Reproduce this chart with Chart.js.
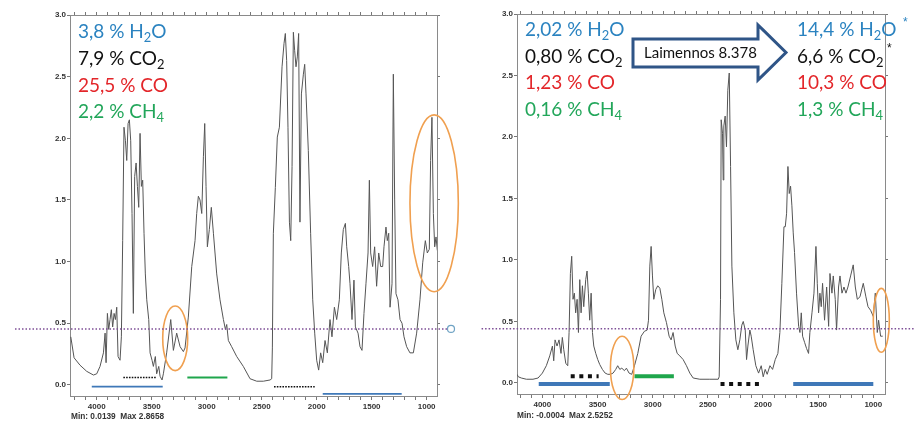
<!DOCTYPE html>
<html>
<head>
<meta charset="utf-8">
<script src="https://cdn.jsdelivr.net/npm/chart.js@4.4.1/dist/chart.umd.min.js"></script>
<style>
  html, body { margin: 0; padding: 0; background: #fff; }
  #wrap { position: relative; width: 915px; height: 423px; overflow: hidden; }
  #wrap canvas { position: absolute; top: 0; }
  #c1 { left: 0; }
  #c2 { left: 460px; }
  .lbl { position: absolute; font-family: Lato, "Open Sans", sans-serif; font-size: 19px; line-height: 19px; white-space: nowrap; }
  .lbl sub { font-size: 0.68em; vertical-align: -0.28em; line-height: 0; }
  .h2o { color: #2b83c0; }
  .co2 { color: #111; }
  .co { color: #e3262a; }
  .ch4 { color: #22a65a; }
  .star { position: absolute; font: 12px "Liberation Sans", Arial, sans-serif; line-height: 12px; }
  .minmax { position: absolute; font: bold 8.3px "Liberation Sans", Arial, sans-serif; line-height: 9px; color: #333; white-space: pre; }
  .arrowtxt { position: absolute; font: 15px Lato, "Open Sans", sans-serif; line-height: 15px; color: #111; white-space: nowrap; }
  svg { position: absolute; left: 0; top: 0; }
</style>
</head>
<body>
<div id="wrap">
  <canvas id="c1" width="460" height="423"></canvas>
  <canvas id="c2" width="455" height="423"></canvas>

  <svg width="915" height="423">
    <polygon points="633,39 758,39 758,25 786,52.5 758,80 758,67 633,67" fill="#fff" stroke="#2f5587" stroke-width="3"/>
  </svg>
  <div class="arrowtxt" style="left:644px; top:45px;">Laimennos 8.378</div>

  <!-- vasen paneeli -->
  <div class="lbl h2o" style="left:78px; top:21px;">3,8 % H<sub>2</sub>O</div>
  <div class="lbl co2" style="left:78px; top:48px;">7,9 % CO<sub>2</sub></div>
  <div class="lbl co" style="left:78px; top:75px;">25,5 % CO</div>
  <div class="lbl ch4" style="left:78px; top:101px;">2,2 % CH<sub>4</sub></div>
  <div class="minmax" style="left:71px; top:412px;">Min: 0.0139  Max 2.8658</div>

  <!-- oikea paneeli -->
  <div class="lbl h2o" style="left:525px; top:19px;">2,02 % H<sub>2</sub>O</div>
  <div class="lbl co2" style="left:525px; top:46px;">0,80 % CO<sub>2</sub></div>
  <div class="lbl co" style="left:525px; top:72px;">1,23 % CO</div>
  <div class="lbl ch4" style="left:525px; top:99px;">0,16 % CH<sub>4</sub></div>

  <div class="lbl h2o" style="left:797px; top:19px;">14,4 % H<sub>2</sub>O</div>
  <div class="lbl co2" style="left:797px; top:46px;">6,6 % CO<sub>2</sub></div>
  <div class="lbl co" style="left:797px; top:72px;">10,3 % CO</div>
  <div class="lbl ch4" style="left:797px; top:99px;">1,3 % CH<sub>4</sub></div>
  <div class="star h2o" style="left:903px; top:16px;">*</div>
  <div class="star co2" style="left:887px; top:42px;">*</div>
  <div class="minmax" style="left:517px; top:411px;">Min: -0.0004  Max 2.5252</div>
</div>

<script>
// aaltoluvut (cm-1) ja absorbanssit, ennen laimennusta
const wavenumbersA = [4236, 4206, 4152, 4091, 4030, 4000, 3970, 3939, 3924, 3915, 3903, 3891, 3879, 3867, 3855, 3842, 3830, 3818, 3806, 3788,
  3776, 3764, 3752, 3739, 3727, 3715, 3703, 3691, 3679, 3667, 3655, 3642, 3630, 3618, 3606, 3594, 3582, 3570, 3558, 3545,
  3527, 3515, 3497, 3485, 3467, 3455, 3436, 3424, 3406, 3394, 3364, 3327, 3303, 3273, 3242, 3212, 3197, 3167, 3136, 3106,
  3091, 3076, 3061, 3045, 3030, 3018, 3006, 2994, 2976, 2958, 2939, 2909, 2879, 2848, 2830, 2818, 2803, 2773, 2727, 2667,
  2606, 2545, 2485, 2424, 2409, 2403, 2394, 2376, 2358, 2339, 2315, 2297, 2285, 2273, 2261, 2248, 2236, 2224, 2212, 2200,
  2188, 2176, 2164, 2152, 2139, 2121, 2109, 2097, 2076, 2055, 2036, 2018, 2000, 1982, 1964, 1945, 1924, 1903, 1879, 1861,
  1839, 1818, 1794, 1776, 1758, 1739, 1727, 1709, 1697, 1679, 1661, 1648, 1624, 1606, 1588, 1570, 1552, 1533, 1521, 1509,
  1491, 1473, 1455, 1436, 1418, 1400, 1388, 1370, 1358, 1345, 1333, 1315, 1303, 1291, 1279, 1261, 1242, 1224, 1206, 1182,
  1152, 1121, 1091, 1061, 1036, 1012, 994, 976, 964, 952, 939, 927, 915, 903];
const absorbanceA = [0.39, 0.22, 0.16, 0.11, 0.08, 0.09, 0.15, 0.26, 0.42, 0.18, 0.58, 0.45, 0.53, 0.61, 0.47, 0.58, 0.53, 0.63, 0.23, 0.20,
  0.39, 1.17, 2.09, 1.98, 1.82, 2.12, 2.15, 1.98, 1.39, 0.58, 1.69, 1.80, 1.61, 1.44, 2.04, 1.61, 1.66, 1.23, 0.90, 0.69,
  0.53, 0.26, 0.20, 0.15, 0.23, 0.09, 0.15, 0.07, 0.04, 0.09, 0.26, 0.53, 0.28, 0.42, 0.31, 0.27, 0.30, 0.55, 0.96, 1.17,
  1.39, 1.53, 1.50, 1.39, 1.85, 2.12, 1.61, 1.12, 1.26, 1.44, 1.23, 0.90, 0.69, 0.53, 0.45, 0.49, 0.36, 0.31, 0.23, 0.15,
  0.05, 0.03, 0.03, 0.04, 0.05, 0.30, 1.23, 1.60, 2.01, 2.09, 2.58, 2.77, 2.85, 2.63, 2.09, 1.32, 1.17, 1.77, 2.86, 2.71,
  2.58, 2.66, 2.85, 1.32, 2.36, 2.52, 2.60, 2.36, 1.90, 1.23, 0.69, 0.42, 0.20, 0.12, 0.26, 0.18, 0.36, 0.26, 0.53, 0.39,
  0.63, 0.53, 0.69, 1.07, 1.26, 1.31, 1.12, 0.96, 0.82, 0.53, 0.85, 0.47, 0.42, 0.31, 0.28, 0.58, 0.82, 1.07, 1.66, 1.07,
  0.96, 1.12, 0.80, 1.07, 0.96, 0.96, 1.12, 1.28, 1.17, 1.23, 0.63, 0.82, 2.52, 1.50, 0.74, 0.69, 0.53, 0.50, 0.39, 0.31,
  0.26, 0.26, 0.42, 0.69, 0.99, 1.17, 1.07, 1.10, 1.82, 2.17, 1.39, 1.12, 1.20, 1.09];

// laimennettu näyte
const wavenumbersB = [4230, 4218, 4191, 4145, 4085, 4039, 4000, 3964, 3933, 3909, 3897, 3885, 3867, 3849, 3831, 3819, 3806, 3788, 3770, 3758,
  3746, 3734, 3722, 3710, 3698, 3685, 3673, 3661, 3649, 3637, 3625, 3607, 3595, 3583, 3571, 3558, 3546, 3534, 3516, 3498,
  3480, 3456, 3431, 3407, 3383, 3359, 3335, 3317, 3298, 3280, 3256, 3238, 3214, 3190, 3165, 3135, 3105, 3075, 3050, 3038,
  3026, 3014, 3002, 2990, 2972, 2954, 2935, 2917, 2899, 2875, 2851, 2833, 2815, 2796, 2778, 2754, 2724, 2694, 2663, 2633,
  2573, 2482, 2406, 2397, 2385, 2379, 2367, 2361, 2355, 2343, 2331, 2319, 2306, 2294, 2282, 2264, 2246, 2228, 2210, 2192,
  2179, 2161, 2149, 2137, 2119, 2107, 2089, 2065, 2040, 2016, 1998, 1980, 1962, 1937, 1913, 1889, 1865, 1847, 1829, 1810,
  1798, 1786, 1774, 1762, 1750, 1738, 1726, 1714, 1696, 1677, 1665, 1653, 1641, 1623, 1605, 1587, 1575, 1556, 1538, 1520,
  1508, 1496, 1484, 1472, 1460, 1442, 1423, 1405, 1393, 1375, 1363, 1345, 1333, 1315, 1302, 1284, 1266, 1248, 1230, 1206,
  1182, 1163, 1145, 1121, 1091, 1067, 1048, 1024, 1000, 982, 964, 952, 934, 915];
const absorbanceB = [0.07, 0.05, 0.04, 0.03, 0.03, 0.04, 0.08, 0.14, 0.22, 0.30, 0.18, 0.35, 0.30, 0.35, 0.24, 0.37, 0.27, 0.16, 0.14, 0.41,
  0.89, 1.03, 0.68, 0.73, 0.57, 0.68, 0.41, 0.84, 0.57, 0.79, 0.62, 0.84, 0.91, 0.73, 0.51, 0.73, 0.41, 0.30, 0.24, 0.19,
  0.15, 0.11, 0.08, 0.07, 0.07, 0.08, 0.11, 0.14, 0.11, 0.12, 0.10, 0.12, 0.08, 0.07, 0.14, 0.24, 0.38, 0.42, 0.43, 0.51,
  0.95, 1.11, 0.87, 0.68, 0.76, 0.79, 0.77, 0.68, 0.57, 0.49, 0.38, 0.35, 0.41, 0.30, 0.24, 0.22, 0.19, 0.14, 0.08, 0.04,
  0.03, 0.03, 0.03, 0.05, 0.68, 2.14, 2.03, 1.65, 2.09, 2.17, 1.92, 2.38, 2.52, 1.76, 0.95, 0.57, 0.35, 0.27, 0.35, 0.47,
  0.50, 0.43, 0.19, 0.30, 0.43, 0.38, 0.27, 0.14, 0.08, 0.14, 0.05, 0.11, 0.07, 0.14, 0.11, 0.19, 0.24, 0.41, 0.81, 1.27,
  1.27, 1.38, 1.76, 1.54, 1.60, 1.44, 1.22, 1.06, 0.73, 0.46, 0.41, 0.57, 0.38, 0.33, 0.28, 0.24, 0.41, 0.57, 0.73, 1.11,
  0.81, 0.57, 0.73, 0.62, 0.81, 0.51, 0.78, 0.46, 0.89, 0.73, 0.87, 0.68, 0.43, 0.78, 0.87, 0.73, 0.78, 0.73, 0.78, 0.87,
  0.96, 0.78, 0.68, 0.70, 0.81, 0.70, 0.62, 0.59, 0.54, 0.73, 0.41, 0.51, 0.38, 0.38];

// akselit
const waveTicks = [4000, 3500, 3000, 2500, 2000, 1500, 1000];
const absTicks = [0, 0.5, 1, 1.5, 2, 2.5, 3];

// kaistamerkinnät: [alku, loppu, taso]
const h2oBandsA = [[4045, 3400, -0.014], [1945, 1227, -0.073]];
const co2BandsA = [[3758, 3461, 0.06], [2388, 2018, -0.014]];
const ch4BandsA = [[3176, 2812, 0.06]];
const h2oBandsB = [[4033, 3389, -0.008], [1726, 1000, -0.008]];
const co2BandsB = [[3743, 3490, 0.054], [2385, 2025, -0.008]];
const ch4BandsB = [[3165, 2808, 0.054]];

// ympyröidyt alueet: [w1, w2, a1, a2]
const circlesA = [[3400, 3173, 0.64, 0.116], [1152, 712, 2.19, 0.756]];
const circlesB = [[3383, 3171, 0.379, -0.135], [1000, 855, 0.769, 0.249]];

// kursoriviiva: [alku, loppu, taso]
const cursorA = [4743, 815, 0.454];
const cursorB = [4551, 622, 0.441];

function minorTicks() {
  const t = [];
  for (let v = 4200; v >= 1000; v -= 100) t.push({ value: v });
  return t;
}

function bandSets(list, color, width, dash) {
  return list.map(b => ({
    data: [{ x: b[0], y: b[2] }, { x: b[1], y: b[2] }],
    borderColor: color, borderWidth: width, borderDash: dash,
    borderCapStyle: 'butt', pointRadius: 0, fill: false
  }));
}

function buildChart(id, p) {
  const spectrum = p.waves.map((w, i) => ({ x: w, y: p.abs[i] }));

  const annot = {
    id: 'annot_' + id,
    afterDatasetsDraw(chart) {
      const ctx = chart.ctx, xs = chart.scales.x, ys = chart.scales.y;
      ctx.save();
      // ellipsit
      ctx.strokeStyle = '#f0a050';
      ctx.lineWidth = 1.6;
      p.circles.forEach(c => {
        const x1 = xs.getPixelForValue(c[0]), x2 = xs.getPixelForValue(c[1]);
        const y1 = ys.getPixelForValue(c[2]), y2 = ys.getPixelForValue(c[3]);
        ctx.beginPath();
        ctx.ellipse((x1 + x2) / 2, (y1 + y2) / 2, Math.abs(x2 - x1) / 2, Math.abs(y2 - y1) / 2, 0, 0, Math.PI * 2);
        ctx.stroke();
      });
      // kursori
      const cy = ys.getPixelForValue(p.cursor[2]);
      const cx1 = xs.getPixelForValue(p.cursor[0]), cx2 = xs.getPixelForValue(p.cursor[1]);
      ctx.strokeStyle = '#7d4e96';
      ctx.lineWidth = 1.5;
      ctx.setLineDash([1.5, 2]);
      ctx.beginPath();
      ctx.moveTo(cx1, cy);
      ctx.lineTo(cx2, cy);
      ctx.stroke();
      ctx.setLineDash([]);
      if (p.knob) {
        ctx.strokeStyle = '#6fa3c4';
        ctx.fillStyle = '#fff';
        ctx.lineWidth = 1.2;
        ctx.beginPath();
        ctx.arc(cx2 + 4, cy, 3.5, 0, Math.PI * 2);
        ctx.fill();
        ctx.stroke();
      }
      ctx.restore();
    }
  };

  const tickFont = { family: 'Liberation Sans, Arial, sans-serif', size: 8, weight: 'bold' };
  const gridOpts = { drawOnChartArea: false, tickLength: 3, tickColor: '#777', tickWidth: 1 };
  const borderOpts = { color: '#8a8a8a', width: 1 };

  new Chart(document.getElementById(id), {
    type: 'line',
    data: {
      datasets: [{
        data: spectrum,
        borderColor: '#555', borderWidth: 1, pointRadius: 0, tension: 0, fill: false
      }].concat(
        bandSets(p.h2o, '#3f78b8', p.thick ? 4 : 1.6, []),
        bandSets(p.ch4, '#1fa64c', p.thick ? 4 : 1.8, []),
        bandSets(p.co2, '#111', p.thick ? 4 : 1.5, p.thick ? [4, 4.6] : [1.6, 1.2])
      )
    },
    options: {
      responsive: false,
      animation: false,
      events: [],
      layout: { padding: 0 },
      plugins: { legend: { display: false }, tooltip: { enabled: false } },
      scales: {
        x: {
          type: 'linear', position: 'bottom', reverse: true, min: p.xMin, max: p.xMax,
          afterBuildTicks: s => { s.ticks = minorTicks(); },
          afterFit: s => { s.height = p.bottomH; },
          ticks: {
            autoSkip: false, maxRotation: 0, padding: 2, color: '#333', font: tickFont,
            callback: v => waveTicks.includes(v) ? String(v) : ''
          },
          grid: Object.assign({}, gridOpts, { tickLength: 4 }),
          border: borderOpts
        },
        xTop: {
          type: 'linear', position: 'top', reverse: true, min: p.xMin, max: p.xMax,
          afterBuildTicks: s => { s.ticks = minorTicks(); },
          afterFit: s => { s.height = p.topH; },
          ticks: { display: false },
          grid: gridOpts,
          border: borderOpts
        },
        y: {
          type: 'linear', position: 'left', min: -0.09, max: 3.0,
          afterBuildTicks: s => { s.ticks = absTicks.map(v => ({ value: v })); },
          afterFit: s => { s.width = p.leftW; },
          ticks: { padding: 1, color: '#333', font: tickFont, callback: v => v.toFixed(1) },
          grid: gridOpts,
          border: borderOpts
        },
        yRight: {
          type: 'linear', position: 'right', min: -0.09, max: 3.0,
          afterBuildTicks: s => { s.ticks = absTicks.map(v => ({ value: v })); },
          afterFit: s => { s.width = p.rightW; },
          ticks: { display: false },
          grid: gridOpts,
          border: borderOpts
        }
      }
    },
    plugins: [annot]
  });
}

window.onload = function () {
  buildChart('c1', {
    waves: wavenumbersA, abs: absorbanceA, xMin: 906, xMax: 4243,
    h2o: h2oBandsA, co2: co2BandsA, ch4: ch4BandsA, circles: circlesA, cursor: cursorA,
    thick: false, knob: true, leftW: 70, rightW: 23, topH: 15, bottomH: 27
  });
  buildChart('c2', {
    waves: wavenumbersB, abs: absorbanceB, xMin: 894, xMax: 4230,
    h2o: h2oBandsB, co2: co2BandsB, ch4: ch4BandsB, circles: circlesB, cursor: cursorB,
    thick: true, knob: false, leftW: 57, rightW: 30, topH: 14, bottomH: 29
  });
};
</script>
</body>
</html>
